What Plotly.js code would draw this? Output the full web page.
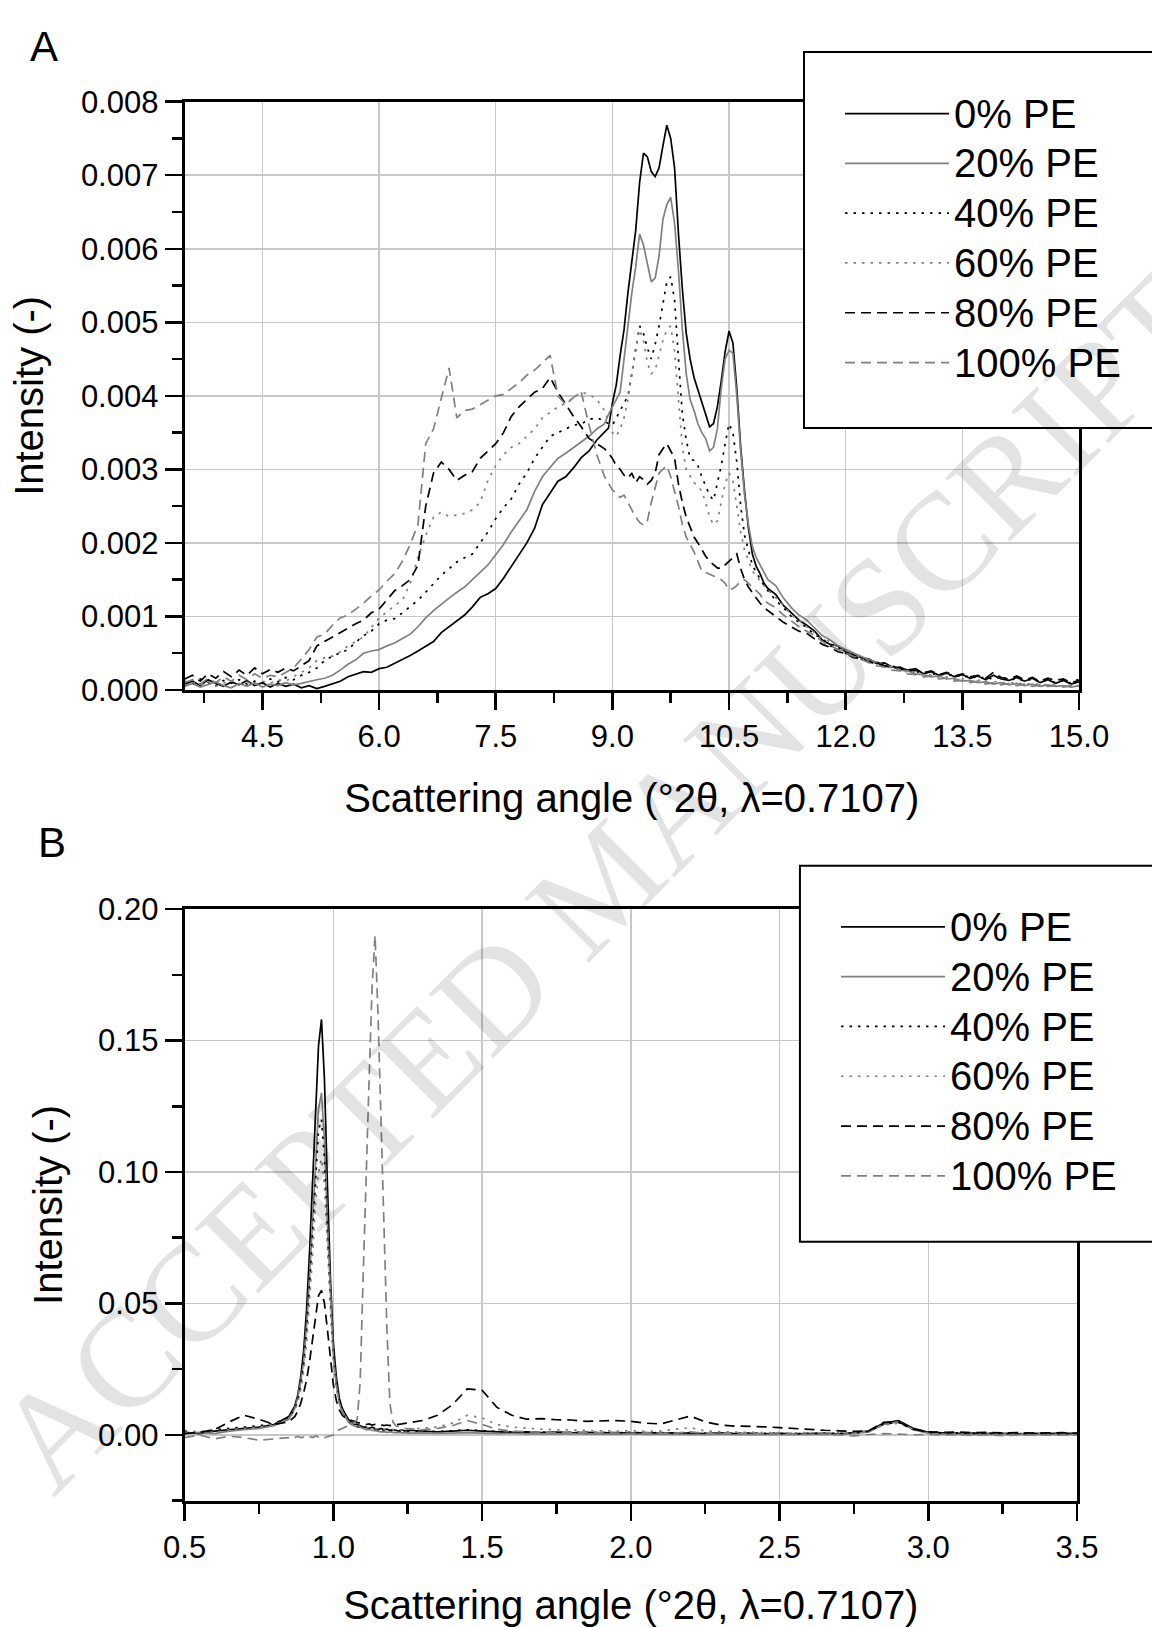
<!DOCTYPE html>
<html>
<head>
<meta charset="utf-8">
<script src="https://cdn.plot.ly/plotly-3.0.1.min.js"></script>
<style>html,body{margin:0;padding:0;background:#fff;}#chart{width:1152px;height:1627px;}</style>
</head>
<body>
<div id="chart"></div>
<script>
// ---------- Panel A data (intensity in units of 1e-3) ----------
const xA = [3.5,3.6,3.7,3.8,3.9,4.0,4.1,4.2,4.3,4.4,4.5,4.6,4.7,4.8,4.9,5.0,5.1,5.2,5.3,5.4,5.5,5.6,5.7,5.8,5.9,6.0,6.1,6.2,6.3,6.4,6.5,6.6,6.7,6.8,6.9,7.0,7.1,7.2,7.3,7.4,7.5,7.6,7.7,7.8,7.9,8.0,8.1,8.2,8.3,8.4,8.5,8.6,8.7,8.8,8.9,
8.95,9.0,9.05,9.1,9.15,9.2,9.25,9.3,9.35,9.4,9.45,9.5,9.55,9.6,9.65,9.7,9.75,9.8,9.85,9.9,9.95,10.0,10.05,10.1,10.15,10.2,10.25,10.3,10.35,10.4,10.45,10.5,10.55,10.6,10.65,10.7,10.75,10.8,10.85,10.9,10.95,
11.0,11.1,11.2,11.3,11.4,11.5,11.6,11.7,11.8,11.9,12.0,12.1,12.2,12.3,12.4,12.5,12.6,12.7,12.8,12.9,13.0,13.1,13.2,13.3,13.4,13.5,13.6,13.7,13.8,13.9,14.0,14.1,14.2,14.3,14.4,14.5,14.6,14.7,14.8,14.9,15.0];

const pe0A = [0.08,0.12,0.06,0.14,0.09,0.05,0.11,0.07,0.13,0.06,
0.10,0.04,0.09,0.05,0.08,0.03,0.06,0.02,0.05,0.08,
0.12,0.18,0.22,0.25,0.24,0.29,0.31,0.36,0.42,0.47,
0.53,0.60,0.66,0.78,0.86,0.93,1.02,1.13,1.26,1.31,
1.38,1.52,1.68,1.84,2.00,2.20,2.52,2.68,2.84,2.90,
3.02,3.16,3.25,3.40,3.50,
3.56,3.90,4.15,4.55,4.90,5.40,5.85,6.25,6.90,7.30,
7.25,7.05,6.98,7.10,7.40,7.68,7.50,7.10,6.20,5.45,
4.85,4.50,4.25,4.08,3.90,3.75,3.58,3.62,3.85,4.20,
4.60,4.88,4.72,4.10,3.30,2.70,2.20,1.85,1.68,1.58,
1.45,
1.38,1.30,1.15,1.05,0.95,0.88,0.80,0.68,0.62,0.60,
0.52,0.48,0.44,0.42,0.36,0.37,0.31,0.30,0.27,0.29,
0.22,0.25,0.20,0.23,0.18,0.21,0.16,0.19,0.14,0.20,
0.15,0.13,0.17,0.12,0.16,0.10,0.14,0.09,0.13,0.08,
0.11];

const pe20A = [0.05,0.09,0.04,0.08,0.11,0.06,0.03,0.09,0.05,0.10,
0.04,0.08,0.06,0.10,0.07,0.09,0.12,0.14,0.16,0.20,
0.27,0.35,0.41,0.50,0.53,0.55,0.60,0.64,0.70,0.76,
0.86,0.98,1.08,1.17,1.25,1.33,1.40,1.50,1.60,1.70,
1.84,1.98,2.15,2.30,2.45,2.70,2.90,3.03,3.15,3.22,
3.30,3.38,3.45,3.55,3.62,
3.75,3.85,3.95,4.05,4.50,4.95,5.40,5.75,6.20,6.05,
5.80,5.55,5.60,5.90,6.40,6.60,6.70,6.35,5.70,4.90,
4.30,3.95,3.80,3.62,3.50,3.42,3.25,3.30,3.55,4.10,
4.50,4.62,4.58,4.00,3.25,2.65,2.25,1.95,1.80,1.70,
1.60,
1.50,1.42,1.25,1.12,1.02,0.95,0.85,0.74,0.68,0.60,
0.55,0.50,0.46,0.41,0.38,0.33,0.32,0.27,0.26,0.22,
0.21,0.18,0.19,0.15,0.16,0.12,0.13,0.10,0.11,0.08,
0.10,0.07,0.09,0.06,0.08,0.05,0.07,0.05,0.06,0.04,
0.06];

const pe40A = [0.12,0.08,0.15,0.10,0.06,0.13,0.09,0.14,0.08,0.12,
0.10,0.15,0.11,0.17,0.14,0.20,0.24,0.30,0.40,0.46,
0.50,0.55,0.65,0.74,0.80,0.90,0.95,0.97,1.05,1.13,
1.22,1.33,1.45,1.56,1.65,1.74,1.80,1.85,2.00,2.15,
2.33,2.48,2.60,2.80,2.95,3.15,3.30,3.45,3.50,3.55,
3.60,3.62,3.68,3.70,3.66,
3.62,3.60,3.70,3.80,3.90,4.00,4.30,4.65,4.95,4.85,
4.65,4.50,4.70,4.95,5.25,5.55,5.62,5.30,4.50,3.75,
3.40,3.15,3.12,3.05,2.90,2.78,2.65,2.58,2.80,3.05,
3.35,3.62,3.50,3.10,2.50,2.10,1.90,1.70,1.60,1.50,
1.42,
1.35,1.22,1.12,1.00,0.92,0.85,0.75,0.70,0.60,0.58,
0.50,0.47,0.42,0.39,0.38,0.32,0.33,0.28,0.29,0.24,
0.26,0.21,0.23,0.19,0.22,0.17,0.20,0.15,0.18,0.14,
0.19,0.13,0.16,0.12,0.15,0.11,0.14,0.10,0.13,0.09,
0.15];

const pe60A = [0.06,0.10,0.07,0.12,0.05,0.09,0.13,0.08,0.11,0.07,
0.12,0.09,0.14,0.12,0.18,0.25,0.30,0.40,0.44,0.46,
0.52,0.60,0.66,0.72,0.85,0.98,1.06,1.15,1.22,1.45,
1.80,2.10,2.35,2.42,2.36,2.38,2.40,2.45,2.55,2.85,
3.05,3.20,3.30,3.35,3.45,3.55,3.70,3.78,3.85,3.90,
3.98,4.05,4.02,3.95,3.80,
3.65,3.50,3.45,3.55,3.70,3.95,4.30,4.65,4.90,4.75,
4.45,4.30,4.35,4.55,4.75,4.90,4.95,4.60,3.90,3.30,
3.00,2.90,2.82,2.78,2.70,2.55,2.35,2.25,2.30,2.55,
2.80,2.95,2.85,2.50,2.15,1.90,1.75,1.62,1.55,1.48,
1.42,
1.36,1.25,1.15,1.02,0.95,0.86,0.78,0.70,0.66,0.58,
0.52,0.50,0.44,0.40,0.35,0.34,0.29,0.28,0.24,0.25,
0.20,0.21,0.17,0.18,0.14,0.16,0.12,0.14,0.10,0.12,
0.09,0.11,0.08,0.10,0.07,0.09,0.06,0.08,0.05,0.07,
0.06];

const pe80A = [0.15,0.20,0.12,0.22,0.16,0.25,0.18,0.27,0.20,0.30,
0.22,0.28,0.24,0.30,0.26,0.33,0.40,0.60,0.66,0.72,
0.78,0.85,0.90,0.95,1.05,1.10,1.22,1.35,1.42,1.50,
1.70,2.50,2.95,3.10,3.00,2.85,2.92,2.97,3.15,3.25,
3.35,3.50,3.72,3.85,3.95,4.05,4.10,4.25,4.05,3.88,
3.72,3.58,3.42,3.35,3.28,
3.22,3.15,3.05,3.00,2.92,2.88,2.95,2.82,2.90,2.86,
2.80,2.85,2.95,3.20,3.28,3.35,3.25,3.15,2.80,2.55,
2.35,2.20,2.08,2.00,1.90,1.82,1.75,1.70,1.66,1.65,
1.70,1.75,1.80,1.85,1.65,1.50,1.40,1.32,1.25,1.18,
1.12,
1.08,1.00,0.92,0.86,0.80,0.77,0.70,0.62,0.58,0.52,
0.50,0.44,0.43,0.38,0.36,0.33,0.30,0.31,0.26,0.27,
0.23,0.26,0.21,0.24,0.19,0.22,0.18,0.20,0.16,0.24,
0.17,0.15,0.19,0.14,0.17,0.12,0.16,0.13,0.15,0.10,
0.13];

const pe100A = [0.10,0.14,0.08,0.16,0.10,0.18,0.12,0.20,0.14,0.22,
0.16,0.20,0.18,0.24,0.30,0.42,0.55,0.72,0.76,0.88,
0.98,1.02,1.10,1.18,1.28,1.36,1.48,1.58,1.75,1.98,
2.25,3.35,3.55,3.95,4.38,3.70,3.80,3.82,3.88,3.95,
4.00,4.02,4.10,4.18,4.28,4.35,4.45,4.55,4.00,3.88,
3.98,4.05,3.60,3.20,2.90,
2.80,2.72,2.68,2.62,2.65,2.55,2.45,2.35,2.28,2.24,
2.30,2.55,2.75,2.95,3.00,3.05,2.90,2.70,2.50,2.25,
2.08,1.98,1.88,1.75,1.62,1.60,1.57,1.55,1.53,1.50,
1.45,1.36,1.38,1.42,1.48,1.50,1.45,1.40,1.35,1.30,
1.22,
1.18,1.12,1.02,0.94,0.86,0.80,0.74,0.66,0.60,0.55,
0.50,0.46,0.41,0.38,0.33,0.31,0.27,0.26,0.22,0.21,
0.18,0.19,0.15,0.16,0.12,0.13,0.10,0.12,0.08,0.10,
0.07,0.09,0.06,0.08,0.05,0.07,0.05,0.06,0.04,0.06,
0.05];

// ---------- Panel B data (intensity in units of 1e-3) ----------
const xB = [0.5,0.55,0.6,0.65,0.7,0.75,0.8,0.85,
0.86,0.87,0.88,0.89,0.9,0.91,0.92,0.93,0.94,0.95,0.96,0.97,0.98,0.99,1.0,1.01,1.02,1.03,1.04,1.05,
1.06,1.07,1.08,1.09,1.1,1.11,1.12,1.13,1.14,1.15,1.16,1.17,1.18,1.19,1.2,1.21,1.22,1.23,1.24,1.25,
1.3,1.35,1.4,1.45,1.5,1.55,1.6,1.65,1.7,1.75,1.8,1.85,1.9,1.95,2.0,2.05,2.1,2.15,2.2,2.25,
2.3,2.35,2.4,2.45,2.5,2.55,2.6,2.65,2.7,2.75,2.8,2.85,2.9,2.95,3.0,3.05,3.1,3.15,3.2,3.25,
3.3,3.35,3.4,3.45,3.5];

const pe0B = [1,0.5,1.5,2,2.5,3,4,7,
9,11,15,22,32,48,70,95,125,148,
158,135,95,60,35,22,14,10,8,6,
5,4,4,3.5,3,3,2.5,3,2.5,2,
2.5,2,2.2,1.8,2,1.8,1.5,2,1.5,1.8,
1.5,1.2,1.5,1.8,1.5,1.2,1,1.2,0.9,1.1,
0.8,1,0.8,0.9,0.7,0.9,0.6,0.8,0.7,0.5,
0.7,0.5,0.6,0.4,0.6,0.4,0.5,0.6,0.4,0.8,
1.5,4.5,5.5,2.5,1,0.8,0.6,0.7,0.5,0.6,
0.4,0.6,0.5,0.7,0.5];

const pe20B = [0.5,1,0.5,1.5,2,2.5,3.5,6,
8,10,14,20,28,42,60,82,105,124,
130,112,80,52,30,19,12,9,7,5,
4,3.5,3,3,2.5,2,2,1.8,1.5,1.5,
1.2,1.3,1,1.2,1,0.8,1,0.8,0.9,0.7,
0.8,0.6,0.7,0.9,0.7,0.5,0.6,0.4,0.5,0.3,
0.5,0.3,0.4,0.2,0.4,0.2,0.3,0.2,0.3,0.1,
0.3,0.1,0.2,0.1,0.2,0.1,0.2,0.1,0.2,0.5,
1.2,4,5,2,0.6,0.3,0.2,0.3,0.1,0.2,
0.1,0.2,0.1,0.2,0.1];

const pe40B = [1.5,1,2,2.5,3,3.5,4.5,6.5,
8,10,13,19,27,40,57,78,100,116,
120,105,77,50,30,19,13,10,7,5.5,
4.5,4,3.5,3,3,2.8,2.5,2.5,2.2,2,
2.2,1.8,2,1.6,1.8,1.5,1.7,1.4,1.6,1.4,
1.5,1.3,1.6,2,1.7,1.3,1.2,1.1,1.2,1,
1.1,0.9,1,0.8,1,0.8,0.9,0.7,0.9,0.7,
0.8,0.6,0.7,0.6,0.7,0.5,0.6,0.5,0.6,0.8,
1.4,4.2,4.8,2.2,1,0.7,0.8,0.6,0.7,0.5,
0.6,0.5,0.6,0.4,0.5];

const pe60B = [1,1.5,1,2,2.5,3,4,6,
7.5,9.5,12,17,24,35,50,68,88,100,
105,95,72,47,28,18,12,9,7,5.5,
4.5,4,3.5,3.2,3,2.8,2.6,2.5,2.4,2.2,
2.2,2.1,2,2.1,2,1.9,2,1.9,2.1,2.2,
2.5,3,4.5,7.5,6.5,4,3,2.5,2.2,2,
1.8,1.7,1.6,1.5,1.6,1.4,1.5,2.2,2.8,1.5,
1.2,1.1,1,0.9,1,0.8,0.9,0.7,0.8,1,
1.5,3.8,4.5,2,0.9,0.6,0.7,0.5,0.6,0.4,
0.5,0.4,0.5,0.3,0.4];

const pe80B = [0.5,1,2,5,7.5,6,4,5,
6,7,9,12,16,21,28,36,46,53,
55,50,40,29,19,13,9.5,7.5,6.5,6,
5.5,5,4.8,4.5,4.3,4,4.2,3.8,4,3.7,
3.9,3.6,3.8,3.6,3.7,3.8,4,4.2,4.4,4.6,
5.5,7.5,11.5,17.5,17,10.5,7.5,6,6.2,5.8,
5.7,5.2,5.4,5.5,5.2,4.5,4.2,5.8,7.2,5,
3.8,3.4,3.3,3.1,2.8,2.4,2,1.8,1.6,1.4,
1.6,4.8,5,2.2,1.2,1,1.1,0.9,1,0.8,
0.9,0.7,0.8,0.9,0.7];

const pe100B = [-1,0,-1.5,-0.5,-1,-2,-1.5,-1,
-1.5,-1,-0.5,-1,-0.8,-1.2,-0.6,-1,-0.4,-0.8,
-0.5,-1,-0.6,-0.4,0,1.5,2,2.5,3,3.5,
4,4.5,6,20,60,100,135,170,190,160,
120,80,40,12,5,3.5,3,2.8,2.5,2.4,
2,2.5,3.5,5.5,4,2.2,1.5,1.2,1,0.9,
1.1,0.8,0.9,0.7,0.6,0.8,0.6,0.7,1.2,0.6,
0.5,0.6,0.4,0.5,0.3,0.4,0.2,0.3,0.1,-0.3,
0.2,0.5,0.3,0.1,0.2,0,0.1,-0.1,0,-0.2,
0,-0.1,0,-0.1,0];

const seriesNames = ['0% PE','20% PE','40% PE','60% PE','80% PE','100% PE'];
const dataA = [pe0A, pe20A, pe40A, pe60A, pe80A, pe100A];
const dataB = [pe0B, pe20B, pe40B, pe60B, pe80B, pe100B];

const xTitle = 'Scattering angle (°2θ, λ=0.7107)';
const yTitle = 'Intensity (-)';
const watermarkText = 'ACCEPTED MANUSCRIPT';

// ---------- styles ----------
const lineStyles = [
  {color:'#000000', dash:'solid'},
  {color:'#808080', dash:'solid'},
  {color:'#000000', dash:'2.5px,6px'},
  {color:'#808080', dash:'2.5px,6px'},
  {color:'#000000', dash:'10px,6px'},
  {color:'#808080', dash:'10px,6px'}
];
const FONT = 'Liberation Sans, Arial, Helvetica, sans-serif';
const milli = arr => arr.map(v => v / 1000);
const legendLabel = s => '<span style="font-size:40px">' + s + '</span>';

const traces = [];
dataA.forEach((arr, i) => {
  traces.push({type:'scatter', mode:'lines', x:xA, y:milli(arr), name:legendLabel(seriesNames[i]),
    xaxis:'x', yaxis:'y', legend:'legend',
    line:{color:lineStyles[i].color, dash:lineStyles[i].dash, width:1.7}});
});
dataB.forEach((arr, i) => {
  traces.push({type:'scatter', mode:'lines', x:xB, y:milli(arr), name:legendLabel(seriesNames[i]),
    xaxis:'x2', yaxis:'y2', legend:'legend2',
    line:{color:lineStyles[i].color, dash:lineStyles[i].dash, width:1.7}});
});

function axisCommon(extra){
  return Object.assign({
    showline:true, linecolor:'#000', linewidth:3, mirror:true,
    ticks:'outside', ticklen:17, tickwidth:2.5, tickcolor:'#000',
    showgrid:true, gridcolor:'#c8c8c8', gridwidth:1.5, zeroline:false,
    tickfont:{family:FONT, size:31, color:'#000'},
    fixedrange:true
  }, extra);
}
const minorStyle = d => ({dtick:d, ticks:'outside', ticklen:10, tickwidth:2.5, tickcolor:'#000', showgrid:false});

const legendCommon = {
  xanchor:'left', yanchor:'top', bgcolor:'rgba(0,0,0,0)', borderwidth:0,
  itemwidth:104, tracegroupgap:0, traceorder:'normal',
  font:{family:FONT, size:36, color:'#000'}
};

const layout = {
  width:1152, height:1627,
  margin:{l:0, r:0, t:0, b:0},
  paper_bgcolor:'#ffffff', plot_bgcolor:'rgba(0,0,0,0)',
  font:{family:FONT, color:'#000'},
  showlegend:true,
  xaxis: axisCommon({domain:[0.1603, 0.9366], anchor:'y', range:[3.5, 15], tick0:0, dtick:1.5,
    tickformat:'.1f', minor:minorStyle(0.75),
    title:{text:xTitle, font:{family:FONT, size:40, color:'#000'}, standoff:31}}),
  yaxis: axisCommon({domain:[0.5759, 0.9375], anchor:'x', range:[0, 0.008], tick0:0, dtick:0.001,
    tickformat:'.3f', minor:minorStyle(0.0005),
    title:{text:yTitle, font:{family:FONT, size:40, color:'#000'}, standoff:25}}),
  xaxis2: axisCommon({domain:[0.1603, 0.9349], anchor:'y2', range:[0.5, 3.5], tick0:0, dtick:0.5,
    tickformat:'.1f', minor:minorStyle(0.25),
    title:{text:xTitle, font:{family:FONT, size:40, color:'#000'}, standoff:29}}),
  yaxis2: axisCommon({domain:[0.0776, 0.4413], anchor:'x2', range:[-0.025, 0.2], tick0:0, dtick:0.05,
    tickformat:'.2f', minor:minorStyle(0.025),
    title:{text:yTitle, font:{family:FONT, size:40, color:'#000'}, standoff:24}}),
  legend: Object.assign({x:0.7292, y:0.9486}, legendCommon),
  legend2: Object.assign({x:0.7257, y:0.4487}, legendCommon),
  shapes:[
    {type:'rect', xref:'paper', yref:'paper', x0:0.6979, x1:1.02, y0:0.7369, y1:0.968,
     fillcolor:'#ffffff', line:{color:'#000', width:2}, layer:'above'},
    {type:'rect', xref:'paper', yref:'paper', x0:0.6944, x1:1.02, y0:0.2368, y1:0.4679,
     fillcolor:'#ffffff', line:{color:'#000', width:2}, layer:'above'},
    {type:'rect', xref:'paper', yref:'paper', x0:0.4610, x1:0.5678, y0:0.4194, y1:0.5094,
     line:{width:0}, fillcolor:'rgba(0,0,0,0)', layer:'above',
     label:{text:watermarkText, textangle:-45, textposition:'middle center',
       font:{family:'Liberation Serif, Times New Roman, serif', size:139, color:'rgba(0,0,0,0.11)'}}}
  ],
  annotations:[
    {text:'A', xref:'paper', yref:'paper', x:0.0378, y:0.9713, showarrow:false,
     xanchor:'center', yanchor:'middle', font:{family:FONT, size:42, color:'#000'}},
    {text:'B', xref:'paper', yref:'paper', x:0.0451, y:0.4820, showarrow:false,
     xanchor:'center', yanchor:'middle', font:{family:FONT, size:42, color:'#000'}}
  ]
};

Plotly.newPlot('chart', traces, layout, {displayModeBar:false, staticPlot:true});
</script>
</body>
</html>
